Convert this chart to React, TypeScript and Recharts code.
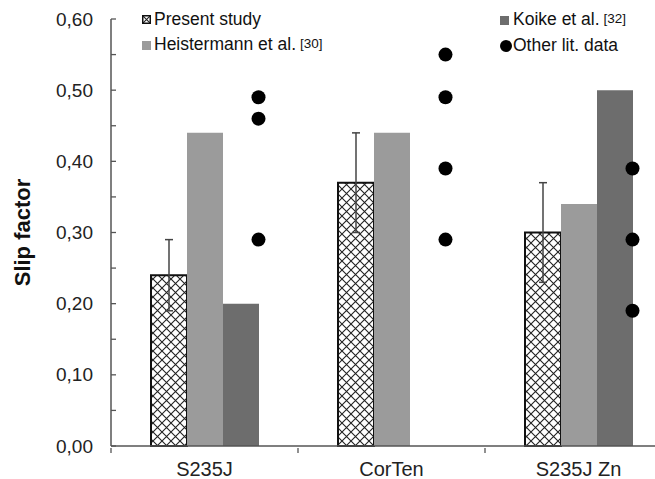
import React from "react";
import { ComposedChart, Bar, Scatter, XAxis, YAxis, ErrorBar } from "recharts";

const STEELS = ["S235J", "CorTen", "S235J Zn"];
const PRESENT_STUDY = [0.24, 0.37, 0.3];
const PRESENT_ERR = [0.05, 0.07, 0.07];
const HEISTERMANN = [0.44, 0.44, 0.34];
const KOIKE = [0.2, null, 0.5];
const OTHER_LIT = [
  [0.49, 0.46, 0.29],
  [0.55, 0.49, 0.39, 0.29],
  [0.39, 0.29, 0.19],
];
const Y_TICKS = [0, 0.05, 0.1, 0.15, 0.2, 0.25, 0.3, 0.35, 0.4, 0.45, 0.5, 0.55, 0.6];

const data = STEELS.map((steel, i) => ({
  steel,
  present: PRESENT_STUDY[i],
  err: PRESENT_ERR[i],
  heist: HEISTERMANN[i],
  koike: KOIKE[i],
}));

const litPoints = STEELS.flatMap((steel, i) => OTHER_LIT[i].map((lit) => ({ steel, lit })));

const FONT = '"Liberation Sans", Arial, Helvetica, sans-serif';
const CHART_W = 672;
const CHART_H = 479;
const AXIS_W = 111;
const BAR = 36;
const BAND = (CHART_W - AXIS_W) / STEELS.length;
const LIGHT = "#9b9b9b";
const DARK = "#6d6d6d";
const AXIS = "#555";

const YTick = ({ x, y, payload }: any) => {
  const v = payload.value;
  const major = Math.round(v * 100) % 10 === 0;
  return (
    <g>
      <line x1={x + 18} x2={x + 23} y1={y} y2={y} stroke={AXIS} strokeWidth={1.3} />
      {major && (
        <text x={x} y={y} textAnchor="end" dominantBaseline="central" fontSize={19} fill="#222" fontFamily={FONT}>
          {v.toFixed(2).replace(".", ",")}
        </text>
      )}
    </g>
  );
};

const XTick = ({ x, y, payload }: any) => (
  <g>
    <line x1={x - BAND / 2} x2={x - BAND / 2} y1={y} y2={y + 5} stroke={AXIS} strokeWidth={1.3} />
    <text x={x} y={y + 21} textAnchor="middle" dominantBaseline="central" fontSize={20} fill="#222" fontFamily={FONT}>
      {payload.value}
    </text>
  </g>
);

const Dot = (p: any) => <circle cx={p.cx + BAR * 1.5} cy={p.cy} r={7} fill="#000" />;

const legendText: React.CSSProperties = { fontSize: 17.5, color: "#111", whiteSpace: "nowrap" };
const ref: React.CSSProperties = { fontSize: 13.5, marginLeft: 4, position: "relative", top: -2 };

export default function App() {
  return (
    <div
      style={{
        position: "absolute",
        left: 0,
        top: 0,
        width: 655,
        height: 479,
        overflow: "hidden",
        background: "#fff",
        fontFamily: FONT,
      }}
    >
      <svg width={0} height={0} style={{ position: "absolute" }}>
        <defs>
          <pattern id="xhatch" width={9} height={9} patternUnits="userSpaceOnUse">
            <rect width={9} height={9} fill="#fff" />
            <path d="M-1,-1L10,10M10,-1L-1,10" stroke="#222" strokeWidth={1.1} />
          </pattern>
        </defs>
      </svg>
      <ComposedChart
        width={CHART_W}
        height={CHART_H}
        data={data}
        margin={{ top: 19, right: 0, bottom: 0, left: 0 }}
        barSize={BAR}
        barGap={0}
      >
        <XAxis
          dataKey="steel"
          type="category"
          allowDuplicatedCategory={false}
          height={33}
          tickLine={false}
          tickSize={0}
          axisLine={{ stroke: AXIS, strokeWidth: 1.5 }}
          tick={<XTick />}
        />
        <YAxis
          width={AXIS_W}
          domain={[0, 0.6]}
          ticks={Y_TICKS}
          interval={0}
          tickLine={false}
          tickSize={0}
          tickMargin={18}
          axisLine={{ stroke: AXIS, strokeWidth: 1.5 }}
          tick={<YTick />}
          label={{
            content: ({ viewBox }: any) => {
              const cx = 22;
              const cy = viewBox.y + viewBox.height / 2;
              return (
                <text
                  x={cx}
                  y={cy}
                  transform={`rotate(-90 ${cx} ${cy})`}
                  textAnchor="middle"
                  dominantBaseline="central"
                  fontSize={22}
                  fontWeight="bold"
                  fill="#111"
                  fontFamily={FONT}
                >
                  Slip factor
                </text>
              );
            },
          }}
        />
        <Bar dataKey="present" fill="url(#xhatch)" stroke="#111" strokeWidth={2} isAnimationActive={false}>
          <ErrorBar dataKey="err" width={4} stroke="#444" strokeWidth={1.5} direction="y" />
        </Bar>
        <Bar dataKey="heist" fill={LIGHT} isAnimationActive={false} />
        <Bar dataKey="koike" fill={DARK} isAnimationActive={false} />
        <Scatter data={litPoints} dataKey="lit" shape={<Dot />} isAnimationActive={false} />
      </ComposedChart>

      <div style={{ position: "absolute", left: 142, top: 7, lineHeight: "25px" }}>
        <div style={{ display: "flex", alignItems: "center" }}>
          <svg width={9} height={9} style={{ marginRight: 3 }}>
            <rect x={0.75} y={0.75} width={7.5} height={7.5} fill="url(#xhatch)" stroke="#111" strokeWidth={1.5} />
          </svg>
          <span style={legendText}>Present study</span>
        </div>
        <div style={{ display: "flex", alignItems: "center" }}>
          <svg width={9} height={9} style={{ marginRight: 3 }}>
            <rect width={9} height={9} fill={LIGHT} />
          </svg>
          <span style={legendText}>
            Heistermann et al.<span style={ref}>[30]</span>
          </span>
        </div>
      </div>
      <div style={{ position: "absolute", left: 500, top: 7, lineHeight: "25px" }}>
        <div style={{ display: "flex", alignItems: "center" }}>
          <svg width={9} height={9} style={{ marginRight: 4 }}>
            <rect width={9} height={9} fill={DARK} />
          </svg>
          <span style={legendText}>
            Koike et al.<span style={ref}>[32]</span>
          </span>
        </div>
        <div style={{ display: "flex", alignItems: "center" }}>
          <svg width={12} height={12} style={{ marginRight: 1 }}>
            <circle cx={6} cy={6} r={6} fill="#000" />
          </svg>
          <span style={legendText}>Other lit. data</span>
        </div>
      </div>
    </div>
  );
}
